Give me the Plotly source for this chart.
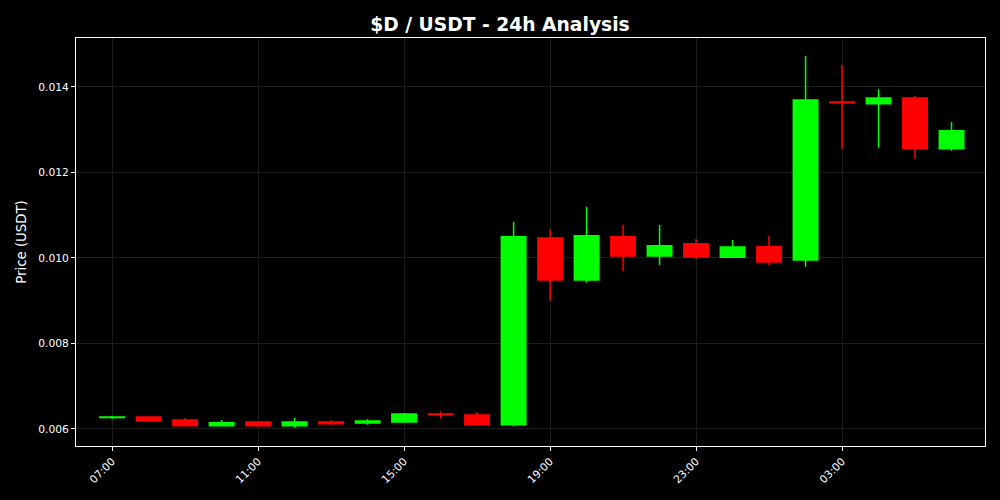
import plotly.graph_objects as go
import pandas as pd

times = pd.date_range("2024-01-01 07:00", periods=24, freq="h")
opens = [0.00627, 0.006281, 0.006211, 0.006077, 0.006164, 0.006077, 0.006164, 0.00614,
         0.006164, 0.00635, 0.006327, 0.0061, 0.010468, 0.009485, 0.010499, 0.010047,
         0.010335, 0.010016, 0.010265, 0.009953, 0.01365, 0.01361, 0.01374, 0.012557]
highs = [0.006311, 0.006297, 0.006257, 0.006211, 0.006175, 0.006257, 0.006203, 0.006234,
         0.006374, 0.006413, 0.00639, 0.010842, 0.010678, 0.0112, 0.010779, 0.010772,
         0.010444, 0.010421, 0.010522, 0.014725, 0.014515, 0.013947, 0.01379, 0.013181]
lows = [0.006227, 0.006171, 0.006062, 0.006062, 0.00606, 0.00603, 0.006094, 0.0061,
        0.00614, 0.00625, 0.006077, 0.00606, 0.009001, 0.009422, 0.009696, 0.009836,
        0.009977, 0.0100, 0.009836, 0.009796, 0.012557, 0.01258, 0.012323, 0.01251]
closes = [0.00628, 0.006187, 0.006077, 0.006147, 0.006077, 0.006164, 0.006124, 0.006187,
          0.006351, 0.00634, 0.0061, 0.010499, 0.009485, 0.010522, 0.010047, 0.010288,
          0.010023, 0.010257, 0.009906, 0.013696, 0.01363, 0.01374, 0.012557, 0.012978]
tick_vals = ["2024-01-01 07:00", "2024-01-01 11:00", "2024-01-01 15:00",
             "2024-01-01 19:00", "2024-01-01 23:00", "2024-01-02 03:00"]
tick_text = ["07:00", "11:00", "15:00", "19:00", "23:00", "03:00"]
y_ticks = [0.006, 0.008, 0.010, 0.012, 0.014]

fig = go.Figure(go.Candlestick(
    x=times, open=opens, high=highs, low=lows, close=closes,
    increasing=dict(line=dict(color="#00ff00", width=1.5), fillcolor="#00ff00"),
    decreasing=dict(line=dict(color="#ff0000", width=1.5), fillcolor="#ff0000"),
    whiskerwidth=0, showlegend=False,
))

fig.update_layout(
    width=1000, height=500,
    paper_bgcolor="black", plot_bgcolor="black",
    margin=dict(l=76, r=15, t=38, b=54),
    font=dict(family="DejaVu Sans", color="white", size=10.7),
    title=dict(text="<b>$D / USDT - 24h Analysis</b>", x=0.5, xanchor="center",
               y=0.952, yanchor="middle", font=dict(size=18.7, color="white")),
    boxgap=0.33, boxgroupgap=0,
)
fig.update_xaxes(
    type="date", range=["2024-01-01 06:00:36", "2024-01-02 06:55:00"],
    tickvals=tick_vals, ticktext=tick_text, tickangle=-45,
    showgrid=True, gridcolor="#1c1c1c", gridwidth=1,
    showline=True, linecolor="white", linewidth=1, mirror=True,
    ticks="outside", ticklen=4, tickcolor="white",
    rangeslider=dict(visible=False), zeroline=False,
    tickfont=dict(size=10.7, color="white"),
)
fig.update_yaxes(
    range=[0.005602, 0.015146], tickvals=y_ticks, tickformat=".3f",
    showgrid=True, gridcolor="#1c1c1c", gridwidth=1,
    showline=True, linecolor="white", linewidth=1, mirror=True,
    ticks="outside", ticklen=4, tickcolor="white", zeroline=False,
    title=dict(text="Price (USDT)", font=dict(size=13.3, color="white"), standoff=8),
    tickfont=dict(size=10.7, color="white"),
)

fig.write_html("out.html", config={"displayModeBar": False},
               post_script="document.body.style.margin='0';document.body.style.background='black';")
